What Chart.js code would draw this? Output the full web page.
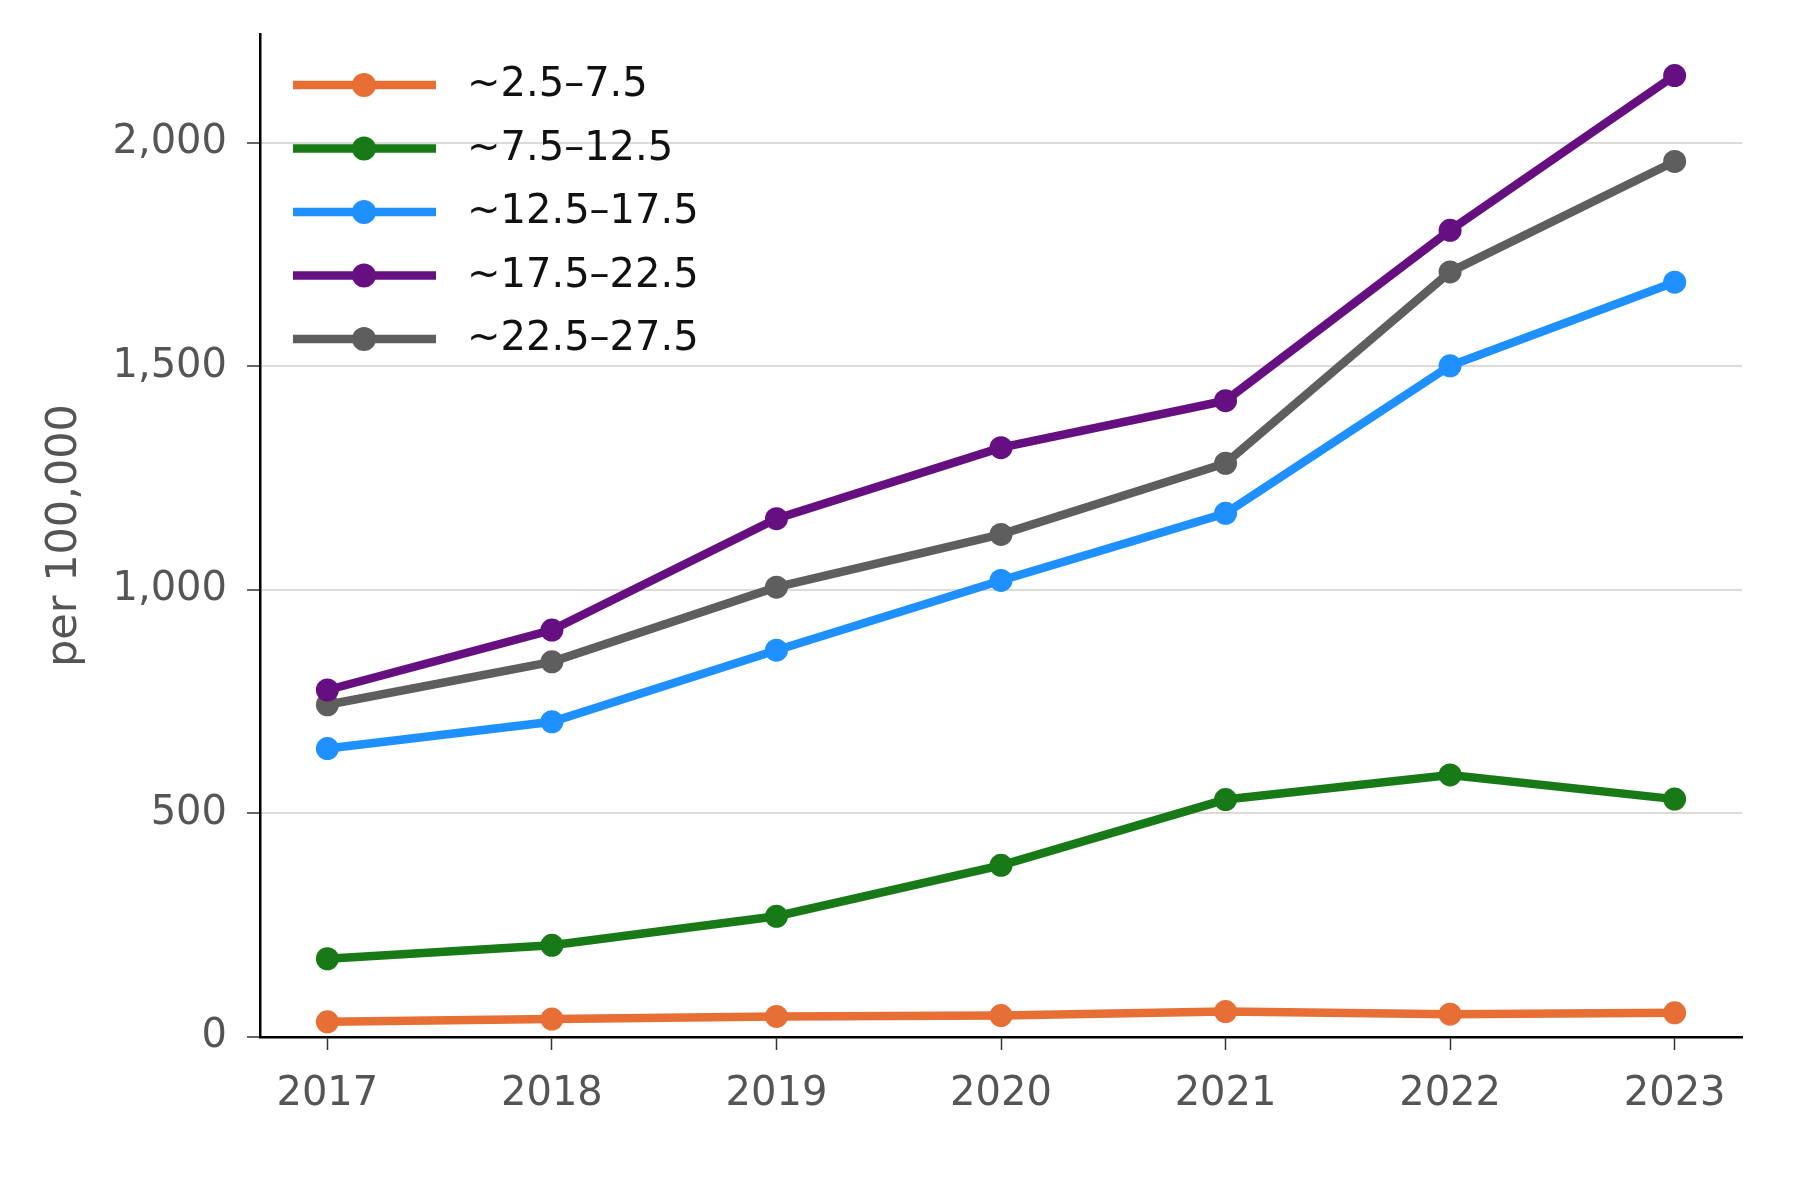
<!DOCTYPE html>
<html>
<head>
<meta charset="utf-8">
<script src="https://cdn.jsdelivr.net/npm/chart.js@4/dist/chart.umd.min.js"></script>
<style>
    html, body { margin: 0; padding: 0; background: #fff; }
    #wrap { width: 1800px; height: 1196px; }
</style>
</head>
<body>
<div id="wrap"><canvas id="lineChart" width="1800" height="1196"></canvas></div>
<script>
const years = [2017, 2018, 2019, 2020, 2021, 2022, 2023];
const seriesNames = ["~2.5–7.5", "~7.5–12.5", "~12.5–17.5", "~17.5–22.5", "~22.5–27.5"];
const band1 = [34, 40, 46, 48, 57, 51, 54];
const band2 = [175, 205, 270, 384, 531, 586, 532];
const band3 = [645, 705, 865, 1021, 1171, 1501, 1688];
const band4 = [776, 910, 1159, 1318, 1423, 1804, 2150];
const band5 = [743, 839, 1006, 1124, 1283, 1711, 1958];
const yTicks = [0, 500, 1000, 1500, 2000];
const colors = ["#e76f35", "#177a17", "#1e90ff", "#660f80", "#5e5e5e"];

const font = "'DejaVu Sans', sans-serif";
const allSeries = [band1, band2, band3, band4, band5];

// legend drawn by hand: line with a dot in the middle, like matplotlib
const legendPlugin = {
    id: "lineLegend",
    afterDraw(chart) {
        const ctx = chart.ctx;
        const area = chart.chartArea;
        const x0 = area.left + 33;
        ctx.save();
        chart.data.datasets.forEach((ds, i) => {
            const y = area.top + 51 + i * 63.5;
            ctx.strokeStyle = ds.borderColor;
            ctx.lineWidth = 8.5;
            ctx.beginPath();
            ctx.moveTo(x0, y);
            ctx.lineTo(x0 + 143, y);
            ctx.stroke();
            ctx.fillStyle = ds.borderColor;
            ctx.beginPath();
            ctx.arc(x0 + 71, y, 12, 0, Math.PI * 2);
            ctx.fill();
            ctx.fillStyle = "#111";
            ctx.font = "40px " + font;
            ctx.textBaseline = "middle";
            ctx.fillText(ds.label, x0 + 174, y + 1);
        });
        ctx.restore();
    },
};

const chart = new Chart(document.getElementById("lineChart"), {
    type: "line",
    plugins: [legendPlugin],
    data: {
        datasets: allSeries.map((vals, i) => ({
            label: seriesNames[i],
            data: years.map((yr, j) => ({ x: yr, y: vals[j] })),
            borderColor: colors[i],
            backgroundColor: colors[i],
            borderWidth: 8.5,
            pointRadius: 11.5,
            pointBorderWidth: 0,
            tension: 0,
        })),
    },
    options: {
        responsive: false,
        animation: false,
        layout: { padding: { top: 34, right: 58, bottom: 0, left: 0 } },
        plugins: {
            legend: { display: false },
            tooltip: { enabled: false },
        },
        scales: {
            x: {
                type: "linear",
                min: 2016.7,
                max: 2023.3,
                afterBuildTicks: (scale) => {
                    scale.ticks = years.map((v) => ({ value: v }));
                },
                afterFit: (scale) => {
                    scale.height = 159;
                    scale.paddingLeft = 0;
                    scale.paddingRight = 0;
                },
                border: { color: "#000", width: 2.5 },
                grid: {
                    drawOnChartArea: false,
                    tickColor: "#333",
                    tickLength: 13,
                    tickWidth: 1.5,
                },
                ticks: {
                    color: "#555",
                    font: { family: font, size: 40 },
                    padding: 21,
                    maxRotation: 0,
                    callback: (v) => String(v),
                },
            },
            y: {
                min: 0,
                max: 2243,
                afterBuildTicks: (scale) => {
                    scale.ticks = yTicks.map((v) => ({ value: v }));
                },
                afterFit: (scale) => {
                    scale.width = 260;
                    scale.paddingTop = 0;
                    scale.paddingBottom = 0;
                },
                border: { color: "#000", width: 2.5 },
                grid: {
                    color: "#dedad7",
                    lineWidth: 2,
                    tickColor: "#333",
                    tickLength: 13,
                    tickWidth: 1.5,
                },
                ticks: {
                    color: "#555",
                    font: { family: font, size: 40 },
                    padding: 20,
                    callback: (v) => v.toLocaleString("en-US"),
                },
                title: {
                    display: true,
                    text: "per 100,000",
                    color: "#555",
                    font: { family: font, size: 43 },
                    padding: { top: 39, bottom: 0 },
                },
            },
        },
    },
});
</script>
</body>
</html>
